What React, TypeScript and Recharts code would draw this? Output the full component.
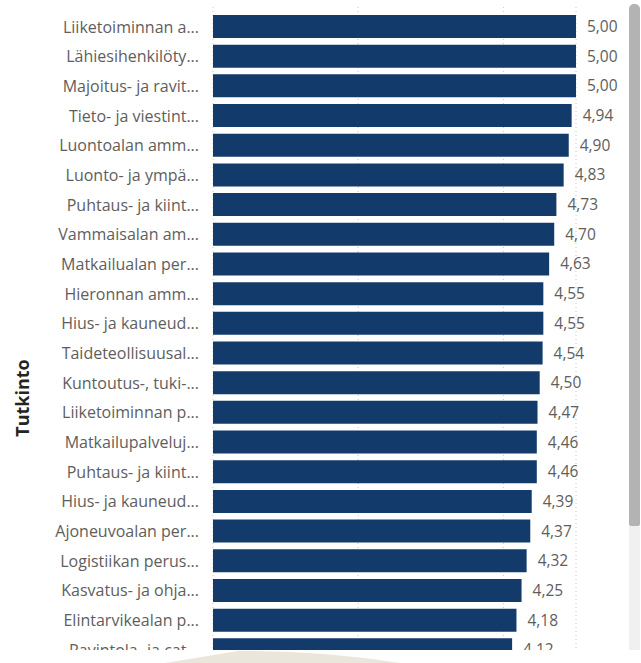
import React from 'react';
import { BarChart, Bar, XAxis, YAxis, CartesianGrid, LabelList } from 'recharts';

const categories: string[] = [
  'Liiketoiminnan a...',
  'Lähiesihenkilöty...',
  'Majoitus- ja ravit...',
  'Tieto- ja viestint...',
  'Luontoalan amm...',
  'Luonto- ja ympä...',
  'Puhtaus- ja kiint...',
  'Vammaisalan am...',
  'Matkailualan per...',
  'Hieronnan amm...',
  'Hius- ja kauneud...',
  'Taideteollisuusal...',
  'Kuntoutus-, tuki-...',
  'Liiketoiminnan p...',
  'Matkailupalveluj...',
  'Puhtaus- ja kiint...',
  'Hius- ja kauneud...',
  'Ajoneuvoalan per...',
  'Logistiikan perus...',
  'Kasvatus- ja ohja...',
  'Elintarvikealan p...',
  'Ravintola- ja cat...',
];

const values: number[] = [
  5.0, 5.0, 5.0, 4.94, 4.9, 4.83, 4.73, 4.7, 4.63, 4.55, 4.55, 4.54, 4.5, 4.47, 4.46, 4.46,
  4.39, 4.37, 4.32, 4.25, 4.18, 4.12,
];

const xTicks: number[] = [0, 2, 4];
const axisTitle = 'Tutkinto';

const data = categories.map((name, i) => ({ id: i, name, value: values[i] }));

const FONT = '"Segoe UI", "Open Sans", "Noto Sans", sans-serif';
const GRAY = '#605E5C';

export default function App() {
  return (
    <div
      style={{
        position: 'absolute',
        left: 0,
        top: 0,
        width: 641,
        height: 663,
        overflow: 'hidden',
        background: '#ffffff',
        fontFamily: FONT,
      }}
    >
      <div style={{ position: 'absolute', left: 0, top: 0, width: 641, height: 650, overflow: 'hidden' }}>
        <BarChart
          width={641}
          height={670}
          data={data}
          layout="vertical"
          margin={{ top: 7, right: 65, bottom: 5, left: 0 }}
        >
          <CartesianGrid
            vertical={true}
            horizontal={false}
            stroke="#c8c8c8"
            strokeDasharray="1 3"
          />
          <XAxis type="number" domain={[0, 5]} ticks={xTicks} hide />
          <YAxis
            type="category"
            dataKey="id"
            width={213}
            axisLine={false}
            tickLine={false}
            tickSize={0}
            tickMargin={14}
            interval={0}
            padding={{ top: 5, bottom: 0 }}
            tickFormatter={(v: number) => categories[v]}
            tick={{ fill: GRAY, fontSize: 16, fontFamily: FONT }}
          />
          <Bar dataKey="value" fill="#123B6B" barSize={23} isAnimationActive={false}>
            <LabelList
              dataKey="value"
              position="right"
              offset={11}
              formatter={(v: number) => v.toFixed(2).replace('.', ',')}
              style={{ fill: GRAY, fontSize: 15.5, fontFamily: FONT }}
            />
          </Bar>
        </BarChart>
      </div>
      <div
        style={{
          position: 'absolute',
          left: 22,
          top: 398,
          transform: 'translate(-50%, -50%) rotate(-90deg)',
          fontSize: 18,
          fontWeight: 700,
          color: '#252423',
          whiteSpace: 'nowrap',
          fontFamily: FONT,
        }}
      >
        {axisTitle}
      </div>
      <div style={{ position: 'absolute', left: 629, top: 526, width: 11, height: 124, background: '#f0f0f0' }} />
      <div
        style={{
          position: 'absolute',
          left: 629,
          top: 4,
          width: 11,
          height: 522,
          background: '#b3b3b3',
          borderRadius: '5px 5px 2px 2px',
        }}
      />
      <svg style={{ position: 'absolute', left: 0, top: 650 }} width={641} height={13}>
        <path d="M 165 13 L 238 1 Q 320 0 400 13 Z" fill="#ebe6dc" />
      </svg>
    </div>
  );
}
